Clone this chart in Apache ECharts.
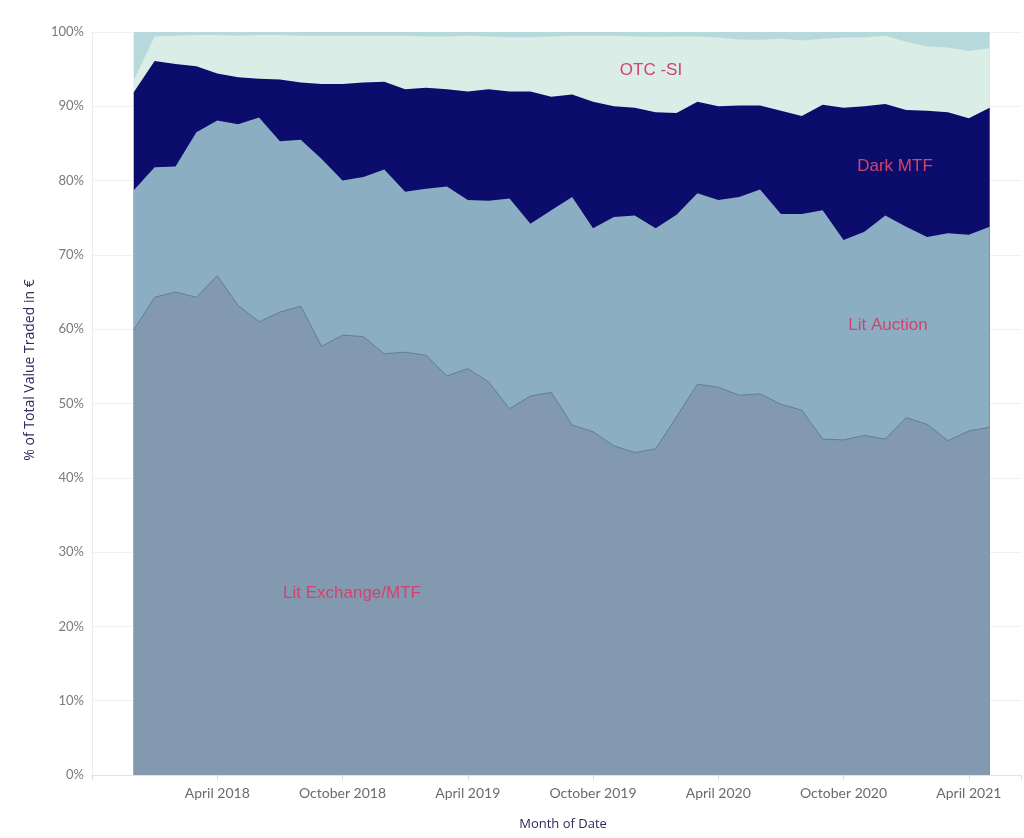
<!DOCTYPE html>
<html>
<head>
<meta charset="utf-8">
<script src="https://cdn.jsdelivr.net/npm/echarts@6/dist/echarts.min.js"></script>
<style>
html,body{margin:0;padding:0;background:#fff;}
#chart{width:1024px;height:838px;}
</style>
</head>
<body>
<div id="chart"></div>
<script>
// Months (Dec 2017 .. May 2021)
const months = [
  '2017-12','2018-01','2018-02','2018-03','2018-04','2018-05','2018-06','2018-07','2018-08','2018-09','2018-10','2018-11',
  '2018-12','2019-01','2019-02','2019-03','2019-04','2019-05','2019-06','2019-07','2019-08','2019-09','2019-10','2019-11',
  '2019-12','2020-01','2020-02','2020-03','2020-04','2020-05','2020-06','2020-07','2020-08','2020-09','2020-10','2020-11',
  '2020-12','2021-01','2021-02','2021-03','2021-04','2021-05'
];
// Shares of total value traded (%), bottom to top
const litExchange = [59.9,64.3,65.0,64.3,67.2,63.2,61.0,62.3,63.1,57.7,59.2,59.0,56.7,56.9,56.5,53.7,54.7,52.9,49.3,51.0,51.5,47.1,46.2,44.3,43.4,43.9,48.2,52.6,52.2,51.1,51.3,49.9,49.1,45.2,45.1,45.7,45.2,48.1,47.2,45.0,46.3,46.8];
const litAuction  = [18.8,17.5,16.9,22.2,20.9,24.4,27.5,23.0,22.4,25.2,20.8,21.5,24.8,21.6,22.4,25.5,22.7,24.4,28.3,23.2,24.5,30.7,27.4,30.8,31.9,29.7,27.2,25.7,25.2,26.7,27.5,25.6,26.4,30.8,26.9,27.4,30.1,25.7,25.2,27.9,26.4,27.0];
const darkMTF     = [13.2,14.3,13.8,8.9,6.3,6.3,5.2,8.3,7.7,10.1,13.0,12.7,11.8,13.8,13.6,13.1,14.6,15.0,14.4,17.8,15.3,13.8,17.0,14.9,14.5,15.6,13.7,12.3,12.6,12.3,11.3,13.9,13.2,14.2,17.8,16.9,15.0,15.7,17.0,16.3,15.7,16.0];
const otcSI       = [1.6,3.3,3.8,4.2,5.2,5.6,5.9,6.0,6.3,6.5,6.5,6.3,6.2,7.2,6.9,7.1,7.5,7.1,7.3,7.3,8.1,7.9,8.9,9.5,9.6,10.15,10.3,8.8,9.25,8.9,8.85,9.7,10.15,8.9,9.45,9.25,9.2,9.2,8.65,8.7,9.05,8.0];
const other       = [6.5,0.6,0.5,0.4,0.4,0.5,0.4,0.4,0.5,0.5,0.5,0.5,0.5,0.5,0.6,0.6,0.5,0.6,0.7,0.7,0.6,0.5,0.5,0.5,0.6,0.65,0.6,0.6,0.75,1.0,1.05,0.9,1.15,0.9,0.75,0.75,0.5,1.3,1.95,2.1,2.55,2.2];
// X tick labels (every 6 months from April 2018)
const tickLabels = ['April 2018','October 2018','April 2019','October 2019','April 2020','October 2020','April 2021'];
const yTicks = [0,10,20,30,40,50,60,70,80,90,100];

// month index relative to Oct 2017 (axis start)
function mIdx(s){ const [y,m] = s.split('-').map(Number); return (y-2017)*12 + (m-10); }

// cumulative stacking (bottom -> top)
const layers = [
  {name:'Lit Exchange/MTF', vals:litExchange, color:'#8399b0'},
  {name:'Lit Auction', vals:litAuction, color:'#8baec3'},
  {name:'Dark MTF', vals:darkMTF, color:'#0b0c6b'},
  {name:'OTC -SI', vals:otcSI, color:'#daede6'},
  {name:'Other', vals:other, color:'#b8d9dc'}
];
let running = months.map(()=>0);
layers.forEach(l=>{
  running = running.map((r,i)=> r + l.vals[i]);
  l.cum = running.map((v,i)=>[mIdx(months[i]), Math.min(100, +v.toFixed(2))]);
});

const font = 'Lato, "Open Sans", sans-serif';
const series = layers.slice().reverse().map((l, k)=>{
  const isBottom = l.name === 'Lit Exchange/MTF';
  return {
    name:l.name, type:'line', data:l.cum, symbol:'none', smooth:false,
    lineStyle:{width: isBottom ? 1 : 0, color: isBottom ? '#5f7e9f' : l.color},
    areaStyle:{color:l.color, opacity:1, origin:'start'},
    emphasis:{disabled:true},
    z: 2 + k*0.01
  };
});

const chart = echarts.init(document.getElementById('chart'));
const annFont = '17px "Liberation Sans", Arial, sans-serif';
const annColor = '#d2436f';
chart.setOption({
  animation:false,
  grid:{left:92, right:0, top:32, bottom:63},
  xAxis:{
    type:'value', min:0, max:44.5, interval:6,
    axisLine:{show:true, lineStyle:{color:'#e2e2e2'}},
    axisTick:{show:true, length:5, lineStyle:{color:'#dddddd'}},
    axisLabel:{
      color:'#6b6b6b', fontSize:14, fontFamily:font, margin:11,
      formatter: v => (v>0 && v%6===0) ? (tickLabels[v/6-1]||'') : ''
    },
    splitLine:{show:false}
  },
  yAxis:{
    type:'value', min:0, max:100, interval:10,
    axisLine:{show:true, lineStyle:{color:'#ececec'}},
    axisTick:{show:false},
    axisLabel:{color:'#7a7a7a', fontSize:13, fontFamily:font, margin:8,
      formatter: v => yTicks.includes(v) ? v+'%' : ''},
    splitLine:{show:true, lineStyle:{color:'#f1f1f1'}}
  },
  series: series,
  graphic:[
    {type:'text', z:100, x:30, y:370, rotation:Math.PI/2,
      style:{text:'% of Total Value Traded in €', fill:'#2b2b5e', font:'14px "Open Sans", sans-serif', textAlign:'center', textVerticalAlign:'middle'}},
    {type:'text', z:100, x:563, y:824,
      style:{text:'Month of Date', fill:'#2b2b5e', font:'13px "Open Sans", sans-serif', textAlign:'center', textVerticalAlign:'middle'}},
    {type:'text', z:100, x:651, y:70, style:{text:'OTC -SI', fill:annColor, font:annFont, textAlign:'center', textVerticalAlign:'middle'}},
    {type:'text', z:100, x:895, y:166, style:{text:'Dark MTF', fill:annColor, font:annFont, textAlign:'center', textVerticalAlign:'middle'}},
    {type:'text', z:100, x:888, y:325, style:{text:'Lit Auction', fill:annColor, font:annFont, textAlign:'center', textVerticalAlign:'middle'}},
    {type:'text', z:100, x:352, y:593, style:{text:'Lit Exchange/MTF', fill:annColor, font:annFont, textAlign:'center', textVerticalAlign:'middle'}}
  ]
});
</script>
</body>
</html>
